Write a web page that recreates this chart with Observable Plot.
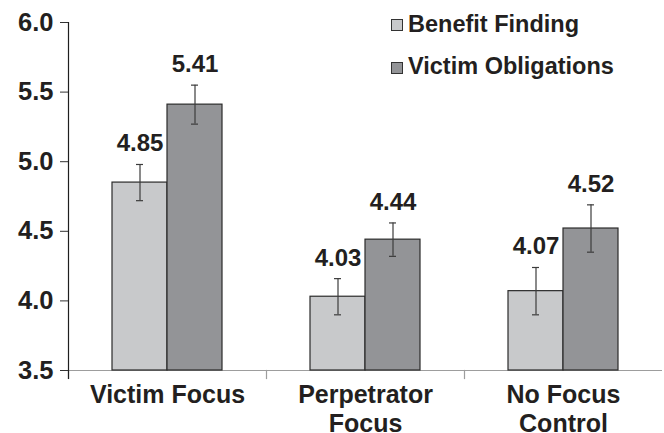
<!DOCTYPE html>
<html>
<head>
<meta charset="utf-8">
<script src="https://cdn.jsdelivr.net/npm/d3@7"></script>
<script src="https://cdn.jsdelivr.net/npm/@observablehq/plot@0.6"></script>
<style>
  html, body { margin: 0; padding: 0; background: #fff; }
  #wrap { position: relative; width: 664px; height: 433px; font-family: "Liberation Sans", Arial, sans-serif; color: #231f20; }
  .lg-sq { position: absolute; width: 10px; height: 10px; border: 1px solid #333; }
  .lg-tx { position: absolute; font-size: 23.5px; font-weight: bold; line-height: 1; white-space: nowrap; }
</style>
</head>
<body>
<div id="wrap"></div>
<script>
// ---- data ----
const categories = ["Victim Focus", "Perpetrator Focus", "No Focus Control"];
const categoryLabels = ["Victim Focus", "Perpetrator\nFocus", "No Focus\nControl"];
const series = ["Benefit Finding", "Victim Obligations"];
const benefitFinding = [4.85, 4.03, 4.07];
const victimObligations = [5.41, 4.44, 4.52];
const benefitFindingSE = [0.13, 0.13, 0.17];
const victimObligationsSE = [0.14, 0.12, 0.17];
const yTicks = [3.5, 4.0, 4.5, 5.0, 5.5, 6.0];
const colors = ["#c8c9cb", "#939497"];

const data = [];
categories.forEach((c, i) => {
  data.push({category: c, series: series[0], mean: benefitFinding[i], se: benefitFindingSE[i]});
  data.push({category: c, series: series[1], mean: victimObligations[i], se: victimObligationsSE[i]});
});

const W = 664, H = 433;
const mT = 22, mB = 63, mL = 68, mR = 2;
const plotH = H - mT - mB;
const yMin = yTicks[0];

const chart = Plot.plot({
  width: W,
  height: H,
  marginTop: mT,
  marginBottom: mB,
  marginLeft: mL,
  marginRight: mR,
  style: {fontFamily: "Liberation Sans, Arial, sans-serif", color: "#231f20", background: "#fff"},
  fx: {domain: categories, padding: 0, label: null},
  x: {domain: series, paddingInner: 0, paddingOuter: 0.768, axis: null},
  y: {domain: [yTicks[0], yTicks[yTicks.length - 1]], label: null},
  color: {domain: series, range: colors},
  marks: [
    Plot.ruleY([yMin], {stroke: "#9d9d9d", strokeWidth: 1.2}),
    Plot.frame({anchor: "left", insetTop: plotH, insetBottom: -8, stroke: "#9d9d9d", strokeWidth: 1.2}),
    Plot.barY(data, {fx: "category", x: "series", y1: yMin, y2: "mean", fill: "series", stroke: "#2b2b2b", strokeWidth: 1.2}),
    Plot.ruleX(data, {fx: "category", x: "series", y1: d => d.mean - d.se, y2: d => d.mean + d.se, stroke: "#3c3c3c", strokeWidth: 1.2}),
    Plot.tickY(data, {fx: "category", x: "series", y: d => d.mean - d.se, insetLeft: 24, insetRight: 24, stroke: "#3c3c3c", strokeWidth: 1.2}),
    Plot.tickY(data, {fx: "category", x: "series", y: d => d.mean + d.se, insetLeft: 24, insetRight: 24, stroke: "#3c3c3c", strokeWidth: 1.2}),
    Plot.text(data, {fx: "category", x: "series", y: d => d.mean + d.se, text: d => d.mean.toFixed(2), dy: -13, lineAnchor: "bottom", fill: "#231f20", fontSize: 24, fontWeight: "bold"}),
    Plot.frame({anchor: "left", facetAnchor: "left", insetBottom: -8, stroke: "#1f1f1f", strokeWidth: 1.2}),
    Plot.axisY({ticks: yTicks, tickFormat: d3.format(".1f"), tickSize: 8, tickPadding: 7, label: null, stroke: "#333", fill: "#231f20", fontSize: 25.5, fontWeight: "bold"}),
    Plot.axisFx({anchor: "bottom", tickSize: 0, tickPadding: 12, label: null,
      tickFormat: d => categoryLabels[categories.indexOf(d)], fontSize: 25, fontWeight: "bold", lineHeight: 1.16, fill: "#231f20"})
  ]
});

const wrap = document.getElementById("wrap");
wrap.appendChild(chart);
chart.style.position = "absolute";
chart.style.left = "0";
chart.style.top = "0";

// legend
const legendRows = [{top: 19, textTop: 12.5}, {top: 61.5, textTop: 54.8}];
series.forEach((s, i) => {
  const sq = document.createElement("div");
  sq.className = "lg-sq";
  sq.style.left = "391px";
  sq.style.top = legendRows[i].top + "px";
  sq.style.background = colors[i];
  wrap.appendChild(sq);
  const tx = document.createElement("div");
  tx.className = "lg-tx";
  tx.style.left = "408px";
  tx.style.top = legendRows[i].textTop + "px";
  tx.textContent = s;
  wrap.appendChild(tx);
});
</script>
</body>
</html>
